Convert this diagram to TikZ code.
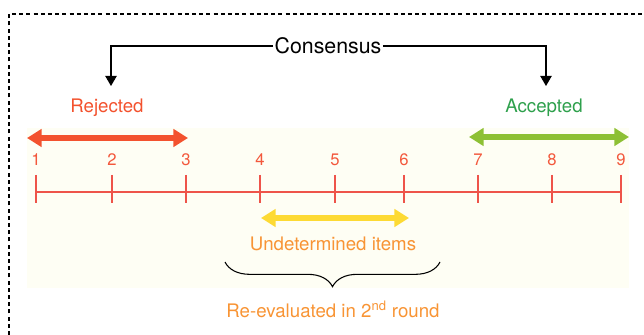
\documentclass[tikz,border=0pt]{standalone}
\usepackage{fontspec}
\setmainfont{TeX Gyre Heros}
\usetikzlibrary{arrows.meta,decorations.pathreplacing,calc}
\definecolor{rejred}{RGB}{243,82,46}
\definecolor{numred}{RGB}{243,88,60}
\definecolor{linered}{RGB}{238,84,74}
\definecolor{accgreen}{RGB}{141,192,52}
\definecolor{acctext}{RGB}{46,160,76}
\definecolor{undyellow}{RGB}{253,218,52}
\definecolor{undorange}{RGB}{248,148,52}
\definecolor{paper}{RGB}{254,254,244}

\begin{document}
\begin{tikzpicture}[x=0.75pt,y=-0.75pt,
  num/.style={text=numred,anchor=base,font=\fontsize{12.5}{13}\selectfont},
  tagtext/.style={anchor=base,font=\fontsize{14}{16}\selectfont},
  tickmark/.style={draw=linered,line width=1.3pt},
  bigarrow/.style={line width=5pt,{Triangle[length=11pt,width=13pt]}-{Triangle[length=11pt,width=13pt]}},
  pointer/.style={line width=0.8pt,-{Triangle[length=7.5pt,width=8.5pt]}}]
  \useasboundingbox (0,0) rectangle (644,335);
  % frame and shaded band
  \draw[line width=1.2pt,dash pattern=on 3pt off 2.4pt] (9,335) -- (9,14) -- (644,14);
  \fill[paper] (27,128) rectangle (629,288);
  % number line
  \foreach \xp [count=\n] in {36,112,186,260,335,404,478,552,621}
    {\coordinate (t\n) at (\xp,192);
     \node[num] (n\n) at (\xp,166) {\n};
     \draw[tickmark] ($(t\n)+(0,-17)$) -- ($(t\n)+(0,11)$);}
  \draw[tickmark] (t1) -- (t9);
  % ranges
  \coordinate (r1) at (27,138);  \coordinate (r2) at (188,138);
  \coordinate (a1) at (469,137); \coordinate (a2) at (629,137);
  \coordinate (u1) at (261,218); \coordinate (u2) at (409,218);
  \draw[bigarrow,color=rejred] (r1) -- (r2);
  \draw[bigarrow,color=accgreen] (a1) -- (a2);
  \draw[bigarrow,color=undyellow] (u1) -- (u2);
  \node[tagtext,text=rejred] (rej) at (107,113) {Rejected};
  \node[tagtext,text=acctext] (acc) at (544,113) {Accepted};
  \node[tagtext,text=undorange] (und) at (333,251) {Undetermined items};
  \node[tagtext,text=undorange] (reev) at (333,317) {Re-evaluated in 2\textsuperscript{nd} round};
  % consensus pointers
  \node[inner sep=1pt,font=\fontsize{16}{18}\selectfont] (cons) at (328,46) {Consensus};
  \coordinate (rejtip) at (111,86);
  \coordinate (acctip) at (546,86);
  \draw[pointer] (cons.west) -| (rejtip);
  \draw[pointer] (cons.east) -| (acctip);
  % brace
  \coordinate (b1) at (225,262); \coordinate (b2) at (440,262);
  \draw[line width=0.8pt,decorate,decoration={brace,mirror,amplitude=18.5pt}] (b1) -- (b2);
\end{tikzpicture}
\end{document}
